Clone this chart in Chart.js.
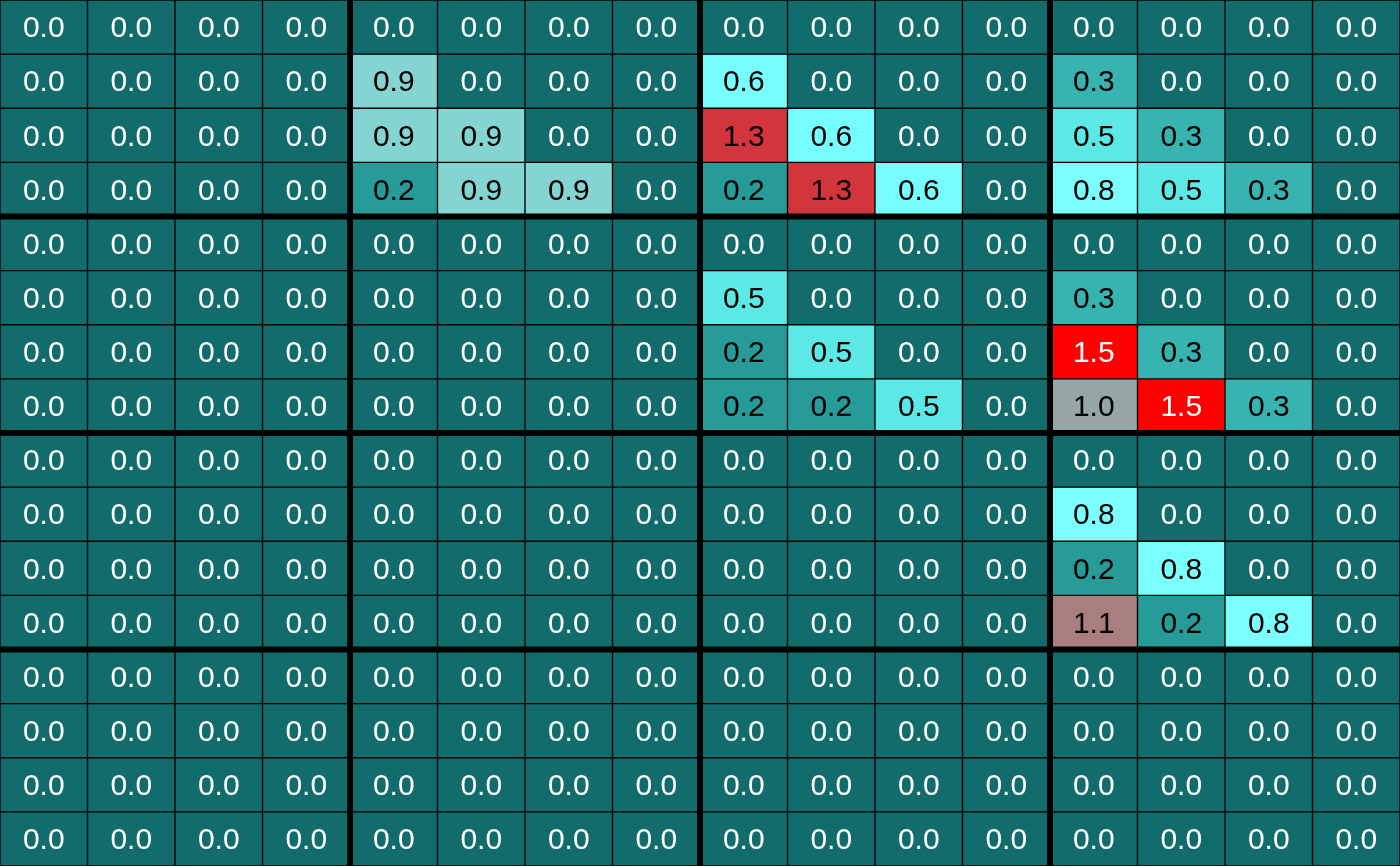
<!DOCTYPE html>
<html>
<head>
<meta charset="utf-8">
<script src="https://cdn.jsdelivr.net/npm/chart.js@4"></script>
<style>
  html, body { margin: 0; padding: 0; background: #000; }
  #wrap { width: 1400px; height: 866px; position: relative; }
</style>
</head>
<body>
<div id="wrap"><canvas id="c"></canvas></div>
<script>
// ---- data ----
const columns = ['0','1','2','3','4','5','6','7','8','9','10','11','12','13','14','15'];
const rowLabels = ['0','1','2','3','4','5','6','7','8','9','10','11','12','13','14','15'];
const row0  = [0,0,0,0, 0,0,0,0, 0,0,0,0, 0,0,0,0];
const row1  = [0,0,0,0, 0.9,0,0,0, 0.6,0,0,0, 0.3,0,0,0];
const row2  = [0,0,0,0, 0.9,0.9,0,0, 1.3,0.6,0,0, 0.5,0.3,0,0];
const row3  = [0,0,0,0, 0.2,0.9,0.9,0, 0.2,1.3,0.6,0, 0.8,0.5,0.3,0];
const row4  = [0,0,0,0, 0,0,0,0, 0,0,0,0, 0,0,0,0];
const row5  = [0,0,0,0, 0,0,0,0, 0.5,0,0,0, 0.3,0,0,0];
const row6  = [0,0,0,0, 0,0,0,0, 0.2,0.5,0,0, 1.5,0.3,0,0];
const row7  = [0,0,0,0, 0,0,0,0, 0.2,0.2,0.5,0, 1.0,1.5,0.3,0];
const row8  = [0,0,0,0, 0,0,0,0, 0,0,0,0, 0,0,0,0];
const row9  = [0,0,0,0, 0,0,0,0, 0,0,0,0, 0.8,0,0,0];
const row10 = [0,0,0,0, 0,0,0,0, 0,0,0,0, 0.2,0.8,0,0];
const row11 = [0,0,0,0, 0,0,0,0, 0,0,0,0, 1.1,0.2,0.8,0];
const row12 = [0,0,0,0, 0,0,0,0, 0,0,0,0, 0,0,0,0];
const row13 = [0,0,0,0, 0,0,0,0, 0,0,0,0, 0,0,0,0];
const row14 = [0,0,0,0, 0,0,0,0, 0,0,0,0, 0,0,0,0];
const row15 = [0,0,0,0, 0,0,0,0, 0,0,0,0, 0,0,0,0];
const rows = [row0,row1,row2,row3,row4,row5,row6,row7,row8,row9,row10,row11,row12,row13,row14,row15];
const blockSize = 4;

// ---- colour scale (style) ----
const colorStops = [
  [0.0, [17,108,107]],
  [0.2, [38,155,152]],
  [0.3, [55,179,176]],
  [0.5, [92,232,228]],
  [0.6, [118,254,254]],
  [0.8, [122,254,254]],
  [0.9, [132,212,210]],
  [1.0, [149,166,165]],
  [1.1, [168,127,126]],
  [1.3, [210,53,59]],
  [1.5, [255,0,0]]
];
function colorFor(v) {
  if (v <= colorStops[0][0]) return 'rgb(' + colorStops[0][1].join(',') + ')';
  for (let i = 1; i < colorStops.length; i++) {
    const [v1, c1] = colorStops[i];
    const [v0, c0] = colorStops[i-1];
    if (v <= v1) {
      const t = (v - v0) / (v1 - v0);
      const c = c0.map((a, k) => Math.round(a + (c1[k] - a) * t));
      return 'rgb(' + c.join(',') + ')';
    }
  }
  return 'rgb(' + colorStops[colorStops.length-1][1].join(',') + ')';
}
function textColorFor(v) {
  return (v < 0.1 || v >= 1.45) ? '#ffffff' : '#000000';
}

const datasets = rows.map((vals, r) => ({
  label: 'row ' + rowLabels[r],
  data: vals.map(() => [r, r + 1]),
  values: vals,
  backgroundColor: vals.map(colorFor),
  borderColor: '#000000',
  borderWidth: 1,
  borderSkipped: false,
  categoryPercentage: 1.0,
  barPercentage: 1.0
}));

const cellLabels = {
  id: 'cellLabels',
  afterDatasetsDraw(chart) {
    const ctx = chart.ctx;
    ctx.save();
    ctx.font = '30px "Liberation Sans", Arial, sans-serif';
    ctx.textAlign = 'center';
    ctx.textBaseline = 'middle';
    chart.data.datasets.forEach((ds, di) => {
      const meta = chart.getDatasetMeta(di);
      meta.data.forEach((bar, i) => {
        const v = ds.values[i];
        const cx = bar.x;
        const cy = (bar.y + bar.base) / 2;
        ctx.fillStyle = textColorFor(v);
        ctx.fillText(v.toFixed(1), cx, cy + 2);
      });
    });
    ctx.restore();
  }
};

const blockLines = {
  id: 'blockLines',
  afterDatasetsDraw(chart) {
    const ctx = chart.ctx;
    const xs = chart.scales.x, ys = chart.scales.y;
    const area = chart.chartArea;
    ctx.save();
    ctx.fillStyle = '#000000';
    const w = 6;
    for (let k = blockSize; k < columns.length; k += blockSize) {
      const px = xs.getPixelForValue(k - 0.5);
      ctx.fillRect(px - w/2, area.top, w, area.bottom - area.top);
    }
    for (let k = blockSize; k < rows.length; k += blockSize) {
      const py = ys.getPixelForValue(k);
      ctx.fillRect(area.left, py - w/2, area.right - area.left, w);
    }
    ctx.restore();
  }
};

new Chart(document.getElementById('c'), {
  type: 'bar',
  data: { labels: columns, datasets },
  options: {
    responsive: true,
    maintainAspectRatio: false,
    animation: false,
    layout: { padding: 0 },
    datasets: { bar: { grouped: false } },
    plugins: { legend: { display: false }, tooltip: { enabled: false } },
    scales: {
      x: { type: 'category', offset: true, display: false, grid: { display: false } },
      y: { type: 'linear', min: 0, max: 16, reverse: true, display: false, grid: { display: false } }
    }
  },
  plugins: [cellLabels, blockLines]
});
</script>
</body>
</html>
